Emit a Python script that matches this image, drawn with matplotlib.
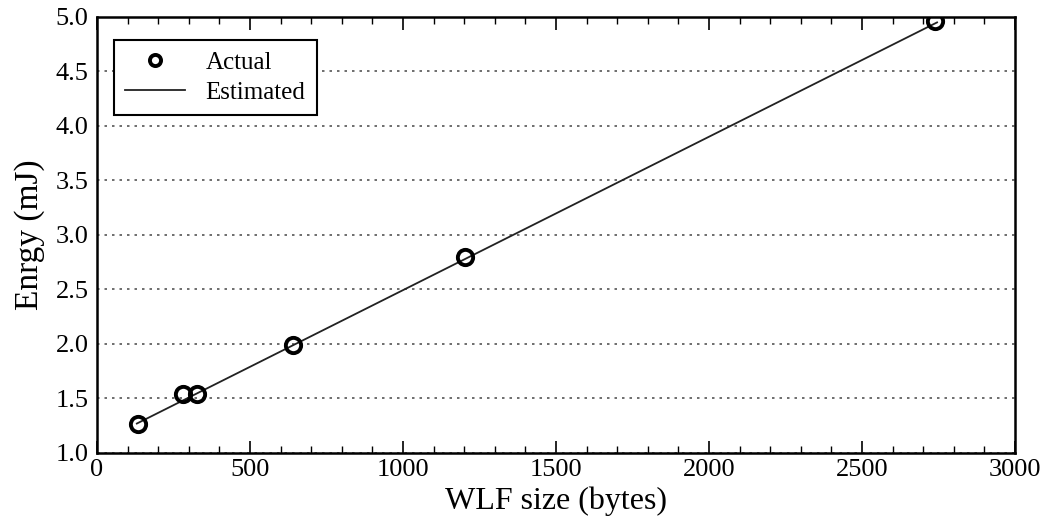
import numpy as np
import matplotlib
matplotlib.use("Agg")
import matplotlib.pyplot as plt
from matplotlib.pyplot import MultipleLocator

plt.rcParams['font.family'] = ['Liberation Serif', 'DejaVu Serif']

# measured points
size_actual = [134, 281, 327, 640, 1203, 2739]
energy_actual = [1.266, 1.54, 1.54, 1.99, 2.80, 4.96]

# fitted line end points
size_est = [130, 2745]
energy_est = [1.27, 4.95]

fig = plt.figure(figsize=(10.48, 5.30), dpi=100)
ax = fig.add_axes([0.0926, 0.1453, 0.876, 0.8227])

ax.plot(size_actual, energy_actual, 'o', mfc='none', mec='black', ms=11, mew=2.8,
        label='Actual', zorder=3)
ax.plot(size_est, energy_est, '-', color='#222222', lw=1.3, label='Estimated', zorder=2)

ax.set_xlim(0, 3000)
ax.set_ylim(1.0, 5.0)
ax.xaxis.set_major_locator(MultipleLocator(500))
ax.xaxis.set_minor_locator(MultipleLocator(100))
ax.yaxis.set_major_locator(MultipleLocator(0.5))
ax.yaxis.set_major_formatter(matplotlib.ticker.FormatStrFormatter('%.1f'))
ax.tick_params(which='both', direction='in', top=True, right=True, labelsize=19, pad=6)
ax.tick_params(axis='x', pad=4)
ax.tick_params(which='major', length=9, width=1.2)
ax.tick_params(which='minor', length=5, width=1.0)
ax.tick_params(axis='y', which='major', length=0)
ax.grid(axis='y', linestyle=(0, (1.5, 3)), color='#555555', lw=1.2)
for s in ax.spines.values():
    s.set_linewidth(1.8)

ax.set_xlabel('WLF size (bytes)', fontsize=23, labelpad=4)
ax.set_ylabel('Enrgy (mJ)', fontsize=24, labelpad=8)

leg = ax.legend(loc='upper left', fontsize=18, fancybox=False, framealpha=1,
                edgecolor='black', handlelength=2.4, borderpad=0.45,
                bbox_to_anchor=(0.005, 0.975), handletextpad=0.8, labelspacing=0.3)
leg.get_frame().set_linewidth(1.5)
leg.legend_handles[0].set_markersize(8)

fig.savefig('out.png', dpi=100)
